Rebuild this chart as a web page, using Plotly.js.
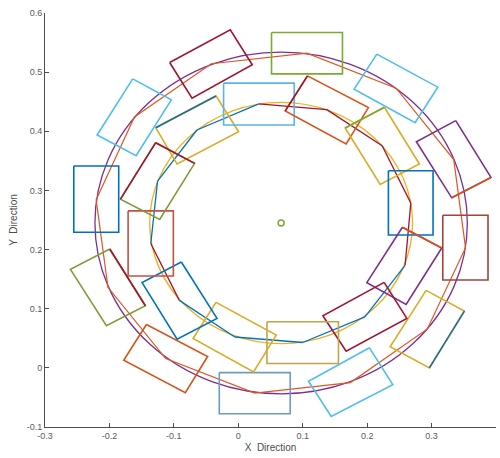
<!DOCTYPE html>
<html>
<head>
<meta charset="utf-8">
<script src="https://cdn.plot.ly/plotly-3.0.1.min.js"></script>
<style>html,body{margin:0;padding:0;background:#fff;}#chart{width:500px;height:458px;}</style>
</head>
<body>
<div id="chart"></div>
<script>
// ---- data ----
var circleCenter = [0.0665, 0.245];
var outerRadius = 0.289;
var innerRadius = 0.204;

// rectangle corners (data units), one row per rectangle
var rectX = [
  [-0.1065, -0.0124, 0.0217, -0.0718],
  [-0.1639, -0.1039, -0.1586, -0.2191],
  [-0.2553, -0.1856, -0.1856, -0.2553],
  [-0.1995, -0.1442, -0.2047, -0.2605],
  [-0.1426, -0.0476, -0.0822, -0.1778],
  [-0.0295, 0.0806, 0.0806, -0.0295],
  [0.2036, 0.2398, 0.1442, 0.1090],
  [0.2915, 0.3509, 0.2966, 0.2357],
  [0.3174, 0.3876, 0.3876, 0.3174],
  [0.3375, 0.3922, 0.3313, 0.2764],
  [0.2150, 0.3096, 0.2744, 0.1798],
  [0.0516, 0.1617, 0.1617, 0.0516],
  [-0.1282, -0.0346, 0.0005, -0.0950],
  [-0.0228, 0.0868, 0.0868, -0.0228],
  [0.1074, 0.2020, 0.1674, 0.0729],
  [0.2268, 0.2811, 0.2202, 0.1659],
  [0.2330, 0.3023, 0.3023, 0.2330],
  [0.2547, 0.3158, 0.2605, 0.1995],
  [0.2264, 0.2616, 0.1674, 0.1313],
  [0.0445, 0.1555, 0.1555, 0.0445],
  [-0.0346, 0.0589, 0.0237, -0.0702],
  [-0.0884, -0.0330, -0.0950, -0.1493],
  [-0.1710, -0.1008, -0.1008, -0.1710],
  [-0.1282, -0.0678, -0.1220, -0.1829]
];
var rectY = [
  [0.5163, 0.5717, 0.5124, 0.4559],
  [0.4886, 0.4531, 0.3586, 0.3937],
  [0.3412, 0.3412, 0.2293, 0.2293],
  [0.2010, 0.1051, 0.0712, 0.1666],
  [0.0734, 0.0192, -0.0419, 0.0129],
  [-0.0080, -0.0080, -0.0775, -0.0775],
  [0.0339, -0.0283, -0.0820, -0.0227],
  [0.1310, 0.0959, 0.0000, 0.0356],
  [0.2581, 0.2581, 0.1485, 0.1485],
  [0.4180, 0.3220, 0.2875, 0.3824],
  [0.5305, 0.4746, 0.4146, 0.4712],
  [0.5671, 0.5671, 0.4971, 0.4971],
  [0.4061, 0.4598, 0.3993, 0.3446],
  [0.4814, 0.4814, 0.4107, 0.4107],
  [0.4937, 0.4400, 0.3785, 0.4344],
  [0.4407, 0.3446, 0.3102, 0.4056],
  [0.3332, 0.3332, 0.2247, 0.2247],
  [0.2378, 0.2027, 0.1073, 0.1441],
  [0.1446, 0.0836, 0.0281, 0.0881],
  [0.0780, 0.0780, 0.0073, 0.0073],
  [0.1107, 0.0553, -0.0068, 0.0497],
  [0.1790, 0.0836, 0.0485, 0.1441],
  [0.2654, 0.2654, 0.1553, 0.1553],
  [0.3807, 0.3458, 0.2508, 0.2853]
];
var rectColors = [
  '#A2142F', '#4DBEEE', '#0072BD', '#7E9B3C', '#D95319', '#6A9EC0',
  '#4DBEEE', '#DAAC28', '#A0443C', '#7E2F8E', '#4DBEEE', '#77AC30',
  '#DAAC28', '#5AB4E6', '#D95319', '#DAAC28', '#0072BD', '#7E2F8E',
  '#A2142F', '#C2A44A', '#DAAC28', '#0072BD', '#C4503F', '#7E9B3C'
];
// single edges drawn in another colour: [rect, fromCorner, toCorner, colour]
var edgeRect = [3, 7, 9, 12, 14, 15, 17, 23, 23];
var edgeFrom = [0, 1, 1, 0, 3, 3, 0, 3, 0];
var edgeTo   = [1, 2, 2, 1, 0, 0, 1, 0, 1];
var edgeColors = ['#A2142F', '#1F6F99', '#D95319', '#1F6F99', '#A2142F', '#77AC30', '#D95319', '#A2142F', '#A2142F'];

// polyline through the outer rectangles
var outerPathX = [-0.2206, -0.2023, -0.1127, 0.0256, 0.1741, 0.2935, 0.3527, 0.3344, 0.2450, 0.1065, -0.0419, -0.1612, -0.2206];
var outerPathY = [0.2844, 0.1361, 0.0158, -0.0427, -0.0249, 0.0658, 0.2031, 0.3522, 0.4729, 0.5322, 0.5142, 0.4242, 0.2844];
// polyline through the inner rectangles
var innerPathX = [-0.1358, -0.1253, -0.0643, 0.0318, 0.1374, 0.2233, 0.2678, 0.2589, 0.1966, 0.1000, -0.0054, -0.0915, -0.1358];
var innerPathY = [0.2103, 0.3158, 0.4022, 0.4463, 0.4366, 0.3754, 0.2785, 0.1734, 0.0861, 0.0429, 0.0522, 0.1141, 0.2103];
var innerSegColors = ['#0072BD', '#0072BD', '#0072BD', '#A2142F', '#A2142F', '#A2142F', '#A2142F', '#0072BD', '#0072BD', '#0072BD', '#0072BD', '#A2142F'];

var xTickVals = [-0.3, -0.2, -0.1, 0, 0.1, 0.2, 0.3, 0.4];
var xTickText = ['-0.3', '-0.2', '-0.1', '0', '0.1', '0.2', '0.3', '0.4'];
var yTickVals = [-0.1, 0, 0.1, 0.2, 0.3, 0.4, 0.5, 0.6];
var yTickText = ['-0.1', '0', '0.1', '0.2', '0.3', '0.4', '0.5', '0.6'];

// ---- traces ----
var traces = [];
traces.push({x: outerPathX, y: outerPathY, mode: 'lines', type: 'scatter',
  line: {color: '#E0561E', width: 1.2}, hoverinfo: 'skip', showlegend: false});
for (var s = 0; s < innerSegColors.length; s++) {
  traces.push({x: [innerPathX[s], innerPathX[s+1]], y: [innerPathY[s], innerPathY[s+1]],
    mode: 'lines', type: 'scatter', line: {color: innerSegColors[s], width: 1.3},
    hoverinfo: 'skip', showlegend: false});
}
for (var r = 0; r < rectX.length; r++) {
  traces.push({x: rectX[r].concat([rectX[r][0]]), y: rectY[r].concat([rectY[r][0]]),
    mode: 'lines', type: 'scatter', line: {color: rectColors[r], width: 1.6},
    hoverinfo: 'skip', showlegend: false});
}
for (var e = 0; e < edgeRect.length; e++) {
  var ri = edgeRect[e];
  traces.push({x: [rectX[ri][edgeFrom[e]], rectX[ri][edgeTo[e]]],
    y: [rectY[ri][edgeFrom[e]], rectY[ri][edgeTo[e]]],
    mode: 'lines', type: 'scatter', line: {color: edgeColors[e], width: 1.6},
    hoverinfo: 'skip', showlegend: false});
}
traces.push({x: [circleCenter[0]], y: [circleCenter[1]], mode: 'markers', type: 'scatter',
  marker: {symbol: 'circle-open', size: 6, color: '#77AC30', line: {width: 1.5, color: '#77AC30'}},
  hoverinfo: 'skip', showlegend: false});

var shapes = [
  {type: 'circle', xref: 'x', yref: 'y', layer: 'below',
   x0: circleCenter[0] - outerRadius, x1: circleCenter[0] + outerRadius,
   y0: circleCenter[1] - outerRadius, y1: circleCenter[1] + outerRadius,
   line: {color: '#7E2F8E', width: 1.3}},
  {type: 'circle', xref: 'x', yref: 'y', layer: 'below',
   x0: circleCenter[0] - innerRadius, x1: circleCenter[0] + innerRadius,
   y0: circleCenter[1] - innerRadius, y1: circleCenter[1] + innerRadius,
   line: {color: '#EDB120', width: 1.3}}
];

var axisFont = {family: 'Liberation Sans, Arial, Helvetica, sans-serif', size: 9, color: '#5a5a5a'};
var layout = {
  width: 500, height: 458,
  margin: {l: 45, r: 4, t: 13, b: 31, pad: 0},
  paper_bgcolor: '#ffffff', plot_bgcolor: '#ffffff',
  showlegend: false,
  shapes: shapes,
  font: {family: 'Liberation Sans, Arial, Helvetica, sans-serif', size: 9, color: '#5a5a5a'},
  xaxis: {range: [-0.3, 0.4], tickvals: xTickVals, ticktext: xTickText,
    showgrid: false, zeroline: false, showline: true, linecolor: '#4d4d4d', linewidth: 1,
    ticks: 'inside', ticklen: 4, tickcolor: '#4d4d4d', tickfont: axisFont,
    title: {text: 'X  Direction', font: {family: 'Liberation Sans, Arial, sans-serif', size: 10, color: '#4d4d4d'}, standoff: 4},
    fixedrange: true},
  yaxis: {range: [-0.1, 0.6], tickvals: yTickVals, ticktext: yTickText,
    showgrid: false, zeroline: false, showline: true, linecolor: '#4d4d4d', linewidth: 1,
    ticks: 'inside', ticklen: 4, tickcolor: '#4d4d4d', tickfont: axisFont,
    title: {text: 'Y  Direction', font: {family: 'Liberation Sans, Arial, sans-serif', size: 10, color: '#4d4d4d'}, standoff: 7},
    fixedrange: true}
};

Plotly.newPlot('chart', traces, layout, {staticPlot: true, displayModeBar: false});
</script>
</body>
</html>
